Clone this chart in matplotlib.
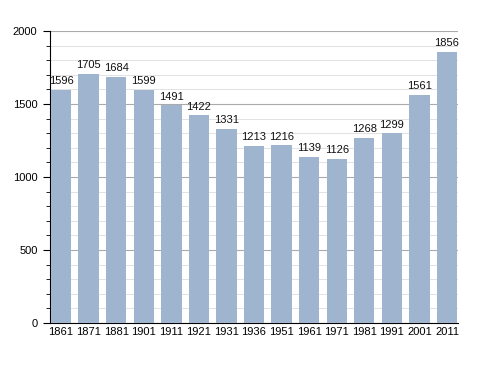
import matplotlib

matplotlib.use("Agg")
import matplotlib.pyplot as plt
from matplotlib.ticker import MultipleLocator

plt.rcParams["font.family"] = ["Liberation Sans", "DejaVu Sans"]

YEARS = ["1861", "1871", "1881", "1901", "1911", "1921", "1931", "1936",
         "1951", "1961", "1971", "1981", "1991", "2001", "2011"]
POPULATION = [1596, 1705, 1684, 1599, 1491, 1422, 1331, 1213,
              1216, 1139, 1126, 1268, 1299, 1561, 1856]

BAR_COLOR = "#9fb5cf"


def main() -> None:
    fig = plt.figure(figsize=(4.88, 3.73), dpi=100)
    ax = fig.add_axes([0.1025, 0.134, 0.836, 0.783])

    x = list(range(len(YEARS)))
    bars = ax.bar(x, POPULATION, width=0.74, color=BAR_COLOR, zorder=3)
    for rect, val in zip(bars, POPULATION):
        ax.text(rect.get_x() + rect.get_width() / 2, val + 25, str(val),
                ha="center", va="bottom", fontsize=8, color="#111111", zorder=4)

    ax.set_xlim(-0.4, len(YEARS) - 0.6)
    ax.set_ylim(0, 2000)
    ax.set_xticks(x)
    ax.set_xticklabels(YEARS, fontsize=8)
    ax.yaxis.set_major_locator(MultipleLocator(500))
    ax.yaxis.set_minor_locator(MultipleLocator(100))
    ax.tick_params(axis="y", which="major", length=5, labelsize=8, pad=4)
    ax.tick_params(axis="y", which="minor", length=3)
    ax.tick_params(axis="x", length=0, pad=3)

    ax.grid(axis="y", which="major", color="#aaaaaa", lw=0.8, zorder=0)
    ax.grid(axis="y", which="minor", color="#e2e2e2", lw=0.7, zorder=0)

    for side in ("top", "right"):
        ax.spines[side].set_visible(False)
    ax.spines["left"].set_color("black")
    ax.spines["bottom"].set_color("black")

    fig.savefig("out.png", dpi=100)
    plt.close(fig)


if __name__ == "__main__":
    main()
